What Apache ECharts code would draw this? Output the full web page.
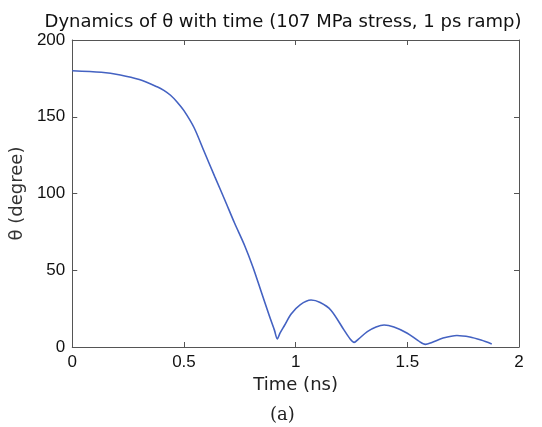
<!DOCTYPE html>
<html><head><meta charset="utf-8">
<script src="https://cdn.jsdelivr.net/npm/echarts@6/dist/echarts.min.js"></script>
<style>html,body{margin:0;padding:0;background:#fff}#c{width:542px;height:427px}</style>
</head><body><div id="c"></div>
<script>
const timeNs = [0, 0.13, 0.215, 0.3, 0.38, 0.41, 0.44, 0.47, 0.5, 0.545, 0.59, 0.638, 0.683, 0.727, 0.772, 0.809, 0.846, 0.883, 0.905, 0.918, 0.93, 0.95, 0.98, 1.02, 1.069, 1.11, 1.158, 1.217, 1.245, 1.262, 1.28, 1.321, 1.36, 1.396, 1.44, 1.5, 1.55, 1.581, 1.61, 1.66, 1.722, 1.78, 1.83, 1.878];
const thetaDeg = [180, 179, 177.2, 174.2, 169.5, 167.2, 164, 159.5, 154, 143, 127.5, 111, 95.8, 80.6, 66, 52, 36, 20, 11, 5.3, 9, 14, 21.5, 27.5, 30.6, 29, 24, 11, 5, 3, 5, 10, 13, 14.3, 13, 9, 4, 1.7, 3, 5.8, 7.5, 6.5, 4.5, 2];
const xTicks = [0, 0.5, 1, 1.5, 2];
const yTicks = [0, 50, 100, 150, 200];

const data = timeNs.map((t, i) => [t, thetaDeg[i]]);
const chart = echarts.init(document.getElementById('c'));
const tickLabelFont = {color: '#111', fontFamily: 'Liberation Sans', fontSize: 17};
const lineStyle = {color: '#555', width: 1};
const frameAxis = {
  type: 'value',
  axisLine: {show: true, onZero: false, lineStyle},
  axisTick: {show: true, inside: true, length: 5, lineStyle},
  axisLabel: {show: false}, splitLine: {show: false}
};
chart.setOption({
  animation: false,
  title: {
    text: 'Dynamics of θ with time (107 MPa stress, 1 ps ramp)',
    left: 278, top: 8, textAlign: 'center',
    textStyle: {fontFamily: 'DejaVu Sans', fontSize: 18, fontWeight: 'normal', color: '#111'}
  },
  graphic: [{
    type: 'text', left: 270, top: 406,
    style: {text: '(a)', font: '18px "DejaVu Serif"', fill: '#222'}
  }],
  grid: {left: 70, right: 23, top: 40, bottom: 80, show: false},
  xAxis: [{
    type: 'value', min: 0, max: 2, interval: 0.5, position: 'bottom',
    name: 'Time (ns)', nameLocation: 'middle', nameGap: 25,
    nameTextStyle: {fontFamily: 'DejaVu Sans', fontSize: 18, color: '#222'},
    axisLine: {show: true, onZero: false, lineStyle},
    axisTick: {show: true, inside: true, length: 5, lineStyle},
    axisLabel: Object.assign({margin: 7, formatter: v => xTicks.includes(v) ? String(v) : ''}, tickLabelFont),
    splitLine: {show: false}
  }, Object.assign({min: 0, max: 2, interval: 0.5, position: 'top'}, frameAxis)],
  yAxis: [{
    type: 'value', min: 0, max: 200, interval: 50, position: 'left',
    name: 'θ (degree)', nameLocation: 'middle', nameGap: 44, nameRotate: 90,
    nameTextStyle: {fontFamily: 'DejaVu Sans', fontSize: 18, color: '#333'},
    axisLine: {show: true, onZero: false, lineStyle},
    axisTick: {show: true, inside: true, length: 5, lineStyle},
    axisLabel: Object.assign({margin: 7, formatter: v => yTicks.includes(v) ? String(v) : ''}, tickLabelFont),
    splitLine: {show: false}
  }, Object.assign({min: 0, max: 200, interval: 50, position: 'right'}, frameAxis)],
  series: [{
    type: 'line', data, smooth: 0.3, showSymbol: false,
    lineStyle: {color: '#4462c2', width: 1.6},
    xAxisIndex: 0, yAxisIndex: 0
  }]
});
</script></body></html>
